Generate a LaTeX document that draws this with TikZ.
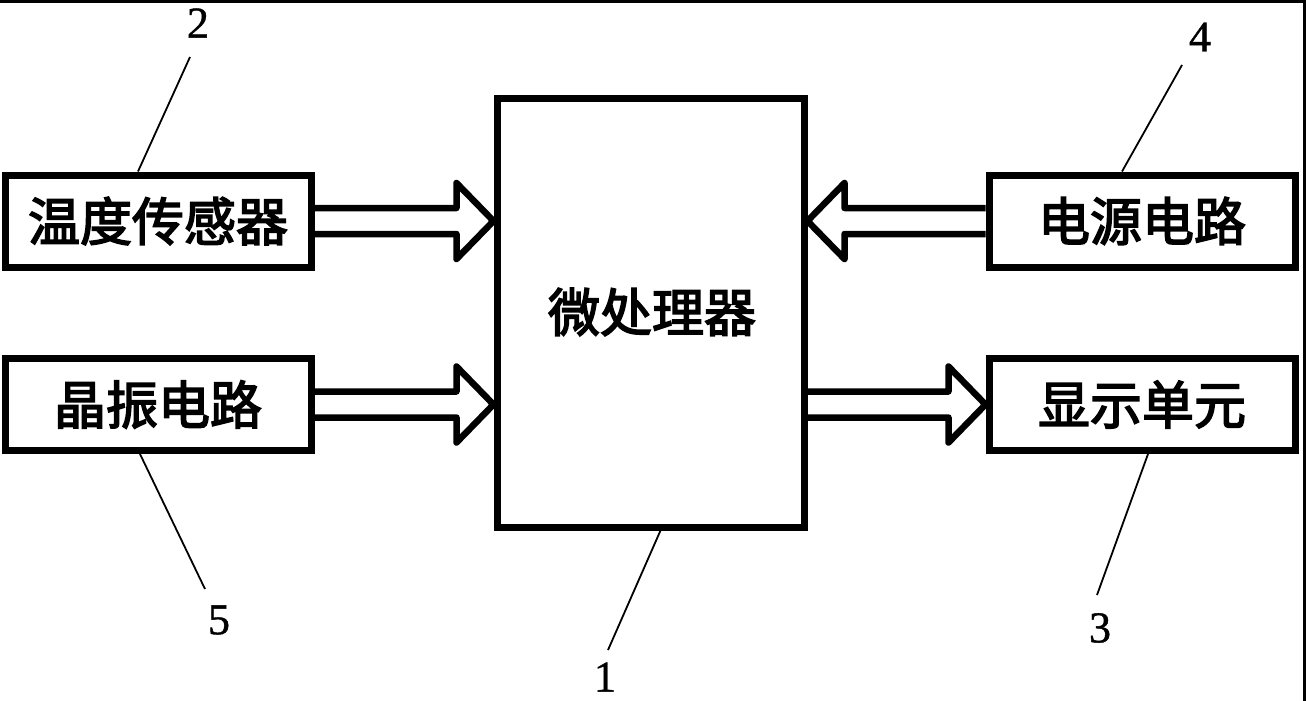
\documentclass[tikz,border=0pt]{standalone}
\usepackage{fontspec}
\newfontfamily\cjk{Noto Sans CJK SC}[FakeBold=3]
\newfontfamily\digitfont{Liberation Serif}[FakeBold=1]
\usetikzlibrary{calc}
\tikzset{
  blockbox/.style={draw=black, line width=7pt, fill=white, inner sep=0pt,
    font=\cjk\fontsize{52}{52}\selectfont},
  sidebox/.style={blockbox, minimum width=306pt, minimum height=92pt},
  fatline/.style={draw=black, line width=6.5pt, line join=round},
  leader/.style={draw=black, line width=1.8pt},
  numlabel/.style={inner sep=0pt, font=\digitfont\fontsize{44}{44}\selectfont}
}
\newcommand{\fatarrowdraw}[3]{%
  \draw[fatline] ($#1+(0,-13)$) -- ($#2+(-37*#3,-13)$) -- ($#2+(-37*#3,-38)$) -- #2
    -- ($#2+(-37*#3,38)$) -- ($#2+(-37*#3,13)$) -- ($#1+(0,13)$);}
\begin{document}
\begin{tikzpicture}[x=1pt,y=-1pt]
\useasboundingbox (0,0) rectangle (1306,701);
\fill[white] (0,0) rectangle (1306,701);
% frame (top and right)
\draw[line width=2.6pt] (0,1.3) -- (1304.7,1.3) -- (1304.7,701);
% blocks
\node[blockbox, minimum width=307pt, minimum height=429pt] (micro) at (650.5,312.5) {};
\node[font=\cjk\fontsize{52}{52}\selectfont, inner sep=0pt] (microtxt) at (652,312) {微处理器};
\node[sidebox] (temp) at (158,221) {温度传感器};
\node[sidebox] (osc) at (158,404.5) {晶振电路};
\node[sidebox] (power) at (1142,221) {电源电路};
\node[sidebox] (disp) at (1142,404.5) {显示单元};
% hollow arrows
\fatarrowdraw{(temp.east)}{(micro.west |- temp.east)}{1}
\fatarrowdraw{(osc.east)}{(micro.west |- osc.east)}{1}
\fatarrowdraw{(power.west)}{(micro.east |- power.west)}{-1}
\fatarrowdraw{(micro.east |- disp.west)}{(disp.west)}{1}
% reference labels
\node[numlabel] (n2) at (198,23) {2};
\node[numlabel] (n4) at (1200,37) {4};
\node[numlabel] (n5) at (219,620) {5};
\node[numlabel] (n1) at (605,677) {1};
\node[numlabel] (n3) at (1100,628) {3};
\coordinate (e2) at (190,57);
\coordinate (e4) at (1182,65);
\coordinate (e5) at (205,589);
\coordinate (e1) at (608,650);
\coordinate (e3) at (1097,595);
\draw[leader] ($(temp.north)+(-20,0)$) -- (e2);
\draw[leader] ($(power.north)+(-20,0)$) -- (e4);
\draw[leader] ($(osc.south)+(-18,0)$) -- (e5);
\draw[leader] ($(micro.south)+(10,0)$) -- (e1);
\draw[leader] ($(disp.south)+(6,0)$) -- (e3);
\end{tikzpicture}
\end{document}
